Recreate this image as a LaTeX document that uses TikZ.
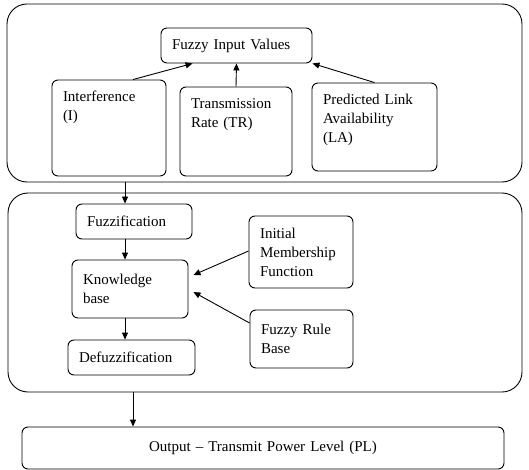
\documentclass[tikz,border=0pt]{standalone}
\usepackage{fontspec}
\setmainfont{Liberation Serif}
\usepackage{tikz}
\usetikzlibrary{arrows.meta}

\begin{document}
\begin{tikzpicture}[x=1pt,y=-1pt,line width=0.9pt,
  panel/.style={draw,rounded corners=20pt,inner sep=0pt},
  blk/.style={draw,rounded corners=6pt,align=left,inner xsep=11pt,
    font=\fontsize{15}{19}\selectfont},
  topblk/.style={blk,inner ysep=11pt,text height=11pt},
  arr/.style={-{Triangle[length=7pt,width=6pt]}}]
\useasboundingbox (0,0) rectangle (529,470);

% Outer panels
\node[panel,minimum width=515pt,minimum height=178pt] (inputs) at (264.5,93) {};
\node[panel,minimum width=514pt,minimum height=199pt] (engine) at (265,292.5) {};

% Inputs
\node[blk,text width=129pt,minimum height=35pt] (fiv) at (236.5,45.5) {Fuzzy Input Values};
\node[topblk,text width=92pt,text depth=63pt] (intf) at (109,128) {Interference\\(I)};
\node[topblk,text width=90pt,text depth=56pt] (trate) at (236,131.5) {Transmission\\Rate (TR)};
\node[topblk,text width=103pt,text depth=55pt] (pred) at (374.5,127) {Predicted Link\\Availability\\(LA)};

\draw[arr] ([xshift=24pt]intf.north) -- ([xshift=32pt]fiv.south west);
\draw[arr] (trate.north) -- (fiv.south);
\draw[arr] (pred.north) -- (fiv.south east);

% Inference engine
\node[blk,text width=94pt,minimum height=35pt] (fuzz) at (134,221.5) {Fuzzification};
\node[blk,text width=94pt,minimum height=58pt] (kb) at (130,289) {Knowledge\\base};
\node[blk,text width=105pt,minimum height=35pt] (defuzz) at (131.5,357.5) {Defuzzification};
\node[blk,text width=82pt,minimum height=72pt] (init) at (301,252) {Initial\\Membership\\Function};
\node[blk,text width=81pt,minimum height=58pt] (rule) at (301.5,339) {Fuzzy Rule\\Base};

\coordinate (spine) at (125,0);
\draw[arr] (inputs.south -| spine) -- (fuzz.north -| spine);
\draw[arr] (fuzz.south -| spine) -- (kb.north -| spine);
\draw[arr] (kb.south -| spine) -- (defuzz.north -| spine);
\draw[arr] ([yshift=1pt]init.west) -- ([xshift=5pt,yshift=14pt]kb.east);
\draw[arr] ([yshift=16pt]rule.west) -- ([xshift=5pt,yshift=-3pt]kb.east);

% Output
\node[blk,align=center,text width=460pt,minimum height=42pt] (output) at (263,448) {Output -- Transmit Power Level (PL)};
\coordinate (drop) at (133,0);
\draw[arr] (engine.south -| drop) -- (output.north -| drop);
\end{tikzpicture}
\end{document}
